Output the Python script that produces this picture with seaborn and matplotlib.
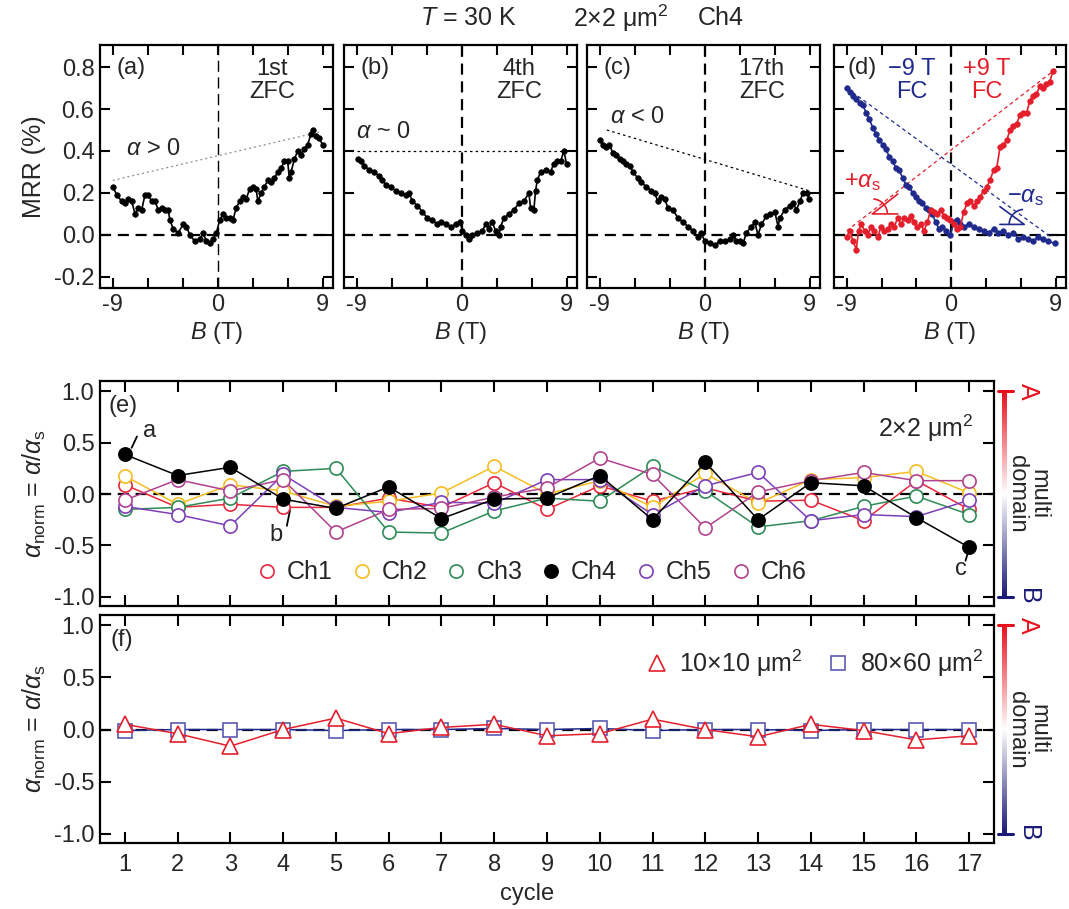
import numpy as np
import pandas as pd
import matplotlib
matplotlib.use('Agg')
import matplotlib.pyplot as plt
import seaborn as sns
from matplotlib.lines import Line2D
from matplotlib.patches import Arc
from matplotlib.colors import LinearSegmentedColormap

# ══════════════════════════════════════════════════════
#  DATA
# ══════════════════════════════════════════════════════
# (a) 1st ZFC
B_a = [-9.0, -8.66, -8.23, -7.95, -7.66, -7.38, -7.09, -6.81, -6.52, -6.24,
       -5.95, -5.67, -5.38, -5.1, -4.81, -4.53, -4.25, -4.1, -3.82, -3.39,
       -2.96, -2.68, -2.39, -1.97, -1.54, -1.25, -0.97, -0.68, -0.4, -0.11,
       0.17, 0.46, 0.74, 1.03, 1.31, 1.6, 1.88, 2.17, 2.45, 2.74,
       3.02, 3.3, 3.45, 3.73, 4.02, 4.3, 4.59, 4.87, 5.16, 5.44,
       5.73, 6.01, 6.15, 6.3, 6.58, 6.87, 7.15, 7.44, 7.72, 8.01,
       8.15, 8.43, 8.72, 9.0]
mrr_a = [0.23, 0.19, 0.16, 0.15, 0.17, 0.16, 0.10, 0.13, 0.12, 0.19,
         0.19, 0.16, 0.16, 0.12, 0.13, 0.12, 0.12, 0.07, 0.03, 0.01,
         0.05, 0.04, 0.00, -0.03, -0.02, 0.01, -0.03, -0.04, -0.02, 0.01,
         0.07, 0.10, 0.08, 0.08, 0.07, 0.13, 0.16, 0.18, 0.17, 0.22,
         0.23, 0.22, 0.16, 0.20, 0.23, 0.26, 0.25, 0.27, 0.30, 0.32,
         0.35, 0.35, 0.27, 0.30, 0.36, 0.40, 0.38, 0.41, 0.43, 0.48,
         0.50, 0.47, 0.46, 0.43]

# (b) 4th ZFC
B_b = [-8.94, -8.66, -8.37, -7.94, -7.51, -7.09, -6.8, -6.51, -6.09, -5.66,
       -5.23, -4.8, -4.51, -4.23, -3.8, -3.37, -2.94, -2.51, -2.09, -1.8,
       -1.37, -0.94, -0.51, -0.14, 0.06, 0.34, 0.63, 0.91, 1.34, 1.77,
       2.06, 2.34, 2.63, 2.91, 3.2, 3.34, 3.63, 4.06, 4.49, 4.91,
       5.34, 5.77, 5.91, 6.2, 6.34, 6.49, 6.77, 7.2, 7.63, 7.91,
       8.2, 8.49, 8.77, 9.0]
mrr_b = [0.36, 0.35, 0.33, 0.31, 0.30, 0.28, 0.26, 0.24, 0.23, 0.21,
         0.20, 0.19, 0.20, 0.16, 0.14, 0.11, 0.08, 0.07, 0.05, 0.06,
         0.05, 0.04, 0.05, 0.06, 0.02, 0.00, -0.02, 0.00, 0.01, 0.02,
         0.05, 0.03, 0.06, 0.02, 0.00, 0.04, 0.08, 0.10, 0.12, 0.15,
         0.16, 0.20, 0.13, 0.12, 0.21, 0.26, 0.30, 0.31, 0.30, 0.34,
         0.35, 0.35, 0.40, 0.34]

# (c) 17th ZFC
B_c = [-8.97, -8.74, -8.45, -8.17, -7.88, -7.59, -7.31, -7.02, -6.73, -6.45,
       -6.16, -5.73, -5.44, -5.01, -4.58, -4.3, -4.01, -3.72, -3.44, -3.15,
       -2.72, -2.29, -1.86, -1.43, -1.0, -0.57, -0.29, 0.0, 0.43, 0.86,
       1.29, 1.72, 2.15, 2.44, 2.72, 3.01, 3.3, 3.58, 4.01, 4.3,
       4.58, 4.87, 5.3, 5.59, 6.02, 6.3, 6.45, 6.88, 7.31, 7.59,
       7.88, 8.17, 8.45, 8.8, 8.97]
mrr_c = [0.45, 0.43, 0.42, 0.43, 0.39, 0.38, 0.36, 0.35, 0.34, 0.33,
         0.30, 0.27, 0.25, 0.23, 0.21, 0.20, 0.16, 0.18, 0.17, 0.13,
         0.12, 0.08, 0.06, 0.04, 0.02, -0.01, 0.01, -0.03, -0.04, -0.05,
         -0.03, -0.03, -0.02, 0.00, -0.03, -0.03, -0.04, 0.01, 0.04, 0.06,
         0.00, 0.05, 0.09, 0.10, 0.11, 0.04, 0.08, 0.12, 0.14, 0.15,
         0.12, 0.16, 0.20, 0.20, 0.17]

# (d) -9 T FC (blue) and +9 T FC (red)
B_dm = [-9.0, -8.75, -8.46, -8.18, -7.89, -7.61, -7.32, -7.04, -6.75, -6.47,
        -6.18, -5.9, -5.61, -5.33, -5.04, -4.76, -4.47, -4.19, -3.9, -3.62,
        -3.33, -3.05, -2.76, -2.48, -2.19, -1.91, -1.62, -1.34, -1.05, -0.77,
        -0.48, -0.06, 0.23, 0.51, 0.8, 1.08, 1.51, 1.94, 2.36, 2.79,
        3.22, 3.65, 4.07, 4.5, 4.93, 5.36, 5.78, 6.21, 6.64, 7.07,
        7.49, 7.92, 8.35, 8.92]
mrr_dm = [0.70, 0.68, 0.66, 0.65, 0.63, 0.62, 0.58, 0.55, 0.51, 0.48,
          0.45, 0.43, 0.41, 0.37, 0.35, 0.32, 0.31, 0.27, 0.24, 0.23,
          0.20, 0.18, 0.16, 0.15, 0.13, 0.12, 0.10, 0.06, 0.03, 0.04,
          0.02, 0.00, 0.06, 0.07, 0.05, 0.04, 0.05, 0.04, 0.03, 0.02,
          0.01, 0.03, 0.01, 0.02, 0.00, 0.01, -0.02, -0.01, -0.02, -0.03,
          -0.01, -0.02, -0.03, -0.04]
B_dp = [-9.0, -8.75, -8.46, -8.18, -7.98, -7.75, -7.46, -7.18, -6.9, -6.61,
        -6.33, -6.04, -5.76, -5.47, -5.19, -4.9, -4.62, -4.33, -4.05, -3.76,
        -3.48, -3.19, -2.91, -2.62, -2.34, -2.05, -1.77, -1.48, -1.2, -0.91,
        -0.63, -0.34, -0.06, 0.23, 0.51, 0.8, 1.08, 1.37, 1.65, 1.94,
        2.22, 2.51, 2.79, 3.08, 3.36, 3.65, 3.93, 4.22, 4.5, 4.79,
        5.07, 5.36, 5.64, 5.93, 6.21, 6.5, 6.78, 7.07, 7.35, 7.64,
        7.92, 8.21, 8.49, 8.78]
mrr_dp = [-0.01, 0.02, -0.03, -0.07, 0.02, 0.05, 0.02, 0.00, 0.04, 0.02,
          -0.01, 0.04, 0.02, 0.03, 0.05, 0.04, 0.08, 0.05, 0.08, 0.07,
          0.09, 0.06, 0.04, 0.05, 0.02, 0.06, 0.12, 0.11, 0.10, 0.12,
          0.09, 0.08, 0.07, 0.05, 0.03, 0.04, 0.11, 0.15, 0.16, 0.14,
          0.16, 0.18, 0.21, 0.23, 0.26, 0.31, 0.32, 0.42, 0.43, 0.45,
          0.50, 0.52, 0.53, 0.57, 0.58, 0.58, 0.64, 0.66, 0.67, 0.71,
          0.70, 0.72, 0.73, 0.78]

# guide lines (end points B, MRR)
guide_a = ([-9.0, 8.7], [0.26, 0.49])
guide_b = ([-9.0, 9.0], [0.40, 0.40])
guide_c = ([-8.4, 9.0], [0.50, 0.21])
guide_dp = ([-9.0, 9.0], [0.02, 0.79])
guide_dm = ([-9.0, 8.6], [0.70, -0.01])
wedge_dp = ([-4.6, -6.8, -4.6], [0.10, 0.10, 0.195])
wedge_dm = ([4.2, 6.3, 4.2], [0.05, 0.05, 0.135])

# (e) alpha_norm for the 2x2 um^2 channels
cycles = list(range(1, 18))
channels = ['Ch1', 'Ch2', 'Ch3', 'Ch4', 'Ch5', 'Ch6']
ch1 = [0.09, -0.13, -0.10, -0.13, -0.13, -0.04, -0.13, 0.11, -0.15, 0.08,
       -0.07, 0.06, -0.07, -0.06, -0.26, 0.13, -0.15]
ch2 = [0.175, -0.10, 0.09, 0.03, -0.12, -0.07, 0.01, 0.27, 0.00, 0.13,
       -0.13, 0.20, -0.09, 0.14, 0.16, 0.22, 0.01]
ch3 = [-0.15, -0.13, -0.04, 0.22, 0.25, -0.37, -0.38, -0.165, -0.04, -0.07,
       0.27, 0.03, -0.32, -0.26, -0.12, -0.02, -0.20]
ch4 = [0.385, 0.18, 0.26, -0.05, -0.14, 0.07, -0.24, -0.05, -0.04, 0.18,
       -0.25, 0.31, -0.25, 0.11, 0.08, -0.23, -0.52]
ch5 = [-0.12, -0.20, -0.31, 0.19, -0.13, -0.18, -0.08, -0.09, 0.14, 0.14,
       -0.20, 0.08, 0.21, -0.26, -0.20, -0.22, -0.06]
ch6 = [-0.06, 0.14, 0.03, 0.14, -0.37, -0.15, -0.14, -0.03, 0.06, 0.35,
       0.19, -0.33, 0.02, 0.13, 0.21, 0.13, 0.13]

# (f) larger devices
dev_10 = [0.05, -0.04, -0.16, 0.00, 0.11, -0.04, 0.02, 0.05, -0.06, -0.04,
          0.10, 0.00, -0.07, 0.05, -0.01, -0.10, -0.06]
dev_80 = [-0.01, 0.00, 0.00, 0.00, -0.01, 0.00, 0.00, 0.01, 0.00, 0.01,
          -0.01, 0.00, 0.00, -0.01, 0.00, 0.00, 0.00]

# colours
RED = '#e41e2b'
NAVY = '#1f2a8c'
ch_colors = ['#e8283a', '#f5bd1f', '#2e8b57', '#000000', '#7d3fb8', '#b0428f']

# ══════════════════════════════════════════════════════
#  STYLE
# ══════════════════════════════════════════════════════
sns.set_style('ticks')
plt.rcParams['font.family'] = ['Liberation Sans', 'DejaVu Sans']
plt.rcParams.update({
    'mathtext.fontset': 'custom',
    'mathtext.rm': 'Liberation Sans',
    'mathtext.it': 'Liberation Sans:italic',
    'mathtext.bf': 'Liberation Sans:bold',
    'axes.unicode_minus': False,
    'font.size': 17,
})
FS = 17

W, H = 1069, 909
fig = plt.figure(figsize=(W / 100, H / 100), dpi=100)


def box(left, top, right, bottom):
    return [left / W, 1 - bottom / H, (right - left) / W, (bottom - top) / H]


def style_frame(ax):
    for s in ax.spines.values():
        s.set_linewidth(1.6)
        s.set_color('black')
    ax.tick_params(direction='in', top=True, right=True, length=7, width=1.5,
                   labelsize=FS, pad=4, color='black')


def style_top(ax, show_y, vthin=False):
    ax.set_xlim(-10.1, 9.9)
    ax.set_ylim(-0.253, 0.905)
    ax.set_xticks([-9, -6, -3, 0, 3, 6, 9])
    ax.set_xticklabels(['-9', '', '', '0', '', '', '9'])
    ax.set_yticks([-0.2, 0.0, 0.2, 0.4, 0.6, 0.8])
    if show_y:
        ax.set_yticklabels(['-0.2', '0.0', '0.2', '0.4', '0.6', '0.8'])
        ax.set_ylabel('MRR (%)', fontsize=FS + 1, labelpad=6)
    else:
        ax.set_yticklabels([])
        ax.set_ylabel('')
    ax.axhline(0, color='black', lw=1.6, dashes=(5, 3), zorder=1)
    if vthin:
        ax.axvline(0, color='black', lw=1.0, dashes=(8, 4), zorder=1)
    else:
        ax.axvline(0, color='black', lw=1.6, dashes=(5, 3), zorder=1)
    ax.set_xlabel(r'$B$ (T)', fontsize=FS, labelpad=3)
    style_frame(ax)


def curve(ax, x, y, color):
    sns.lineplot(x=x, y=y, ax=ax, color=color, lw=1.2, marker='o', ms=4.0,
                 markeredgecolor=color, markerfacecolor=color,
                 markeredgewidth=0.5, estimator=None, sort=False, zorder=3)


# ── top row ───────────────────────────────────────────
ax_a = fig.add_axes(box(100, 45, 333, 288))
ax_b = fig.add_axes(box(344, 45, 577, 288))
ax_c = fig.add_axes(box(587, 45, 820, 288))
ax_d = fig.add_axes(box(834, 45, 1066, 288))

curve(ax_a, B_a, mrr_a, 'black')
ax_a.plot(*guide_a, color='#8a8a8a', lw=0.9, dashes=(1.5, 2.5))
style_top(ax_a, True, vthin=True)
ax_a.text(0.07, 0.905, '(a)', transform=ax_a.transAxes, va='center', fontsize=FS)
ax_a.text(0.74, 0.945, '1st\nZFC', transform=ax_a.transAxes, ha='center',
          va='top', fontsize=FS, linespacing=1.05)
ax_a.text(-7.9, 0.41, r'$\alpha$ > 0', fontsize=FS, va='center')

curve(ax_b, B_b, mrr_b, 'black')
ax_b.plot(*guide_b, color='black', lw=0.9, dashes=(2, 2.5))
style_top(ax_b, False)
ax_b.text(0.07, 0.905, '(b)', transform=ax_b.transAxes, va='center', fontsize=FS)
ax_b.text(0.75, 0.945, '4th\nZFC', transform=ax_b.transAxes, ha='center',
          va='top', fontsize=FS, linespacing=1.05)
ax_b.text(-9.1, 0.49, r'$\alpha$ ~ 0', fontsize=FS, va='center')

curve(ax_c, B_c, mrr_c, 'black')
ax_c.plot(*guide_c, color='black', lw=0.9, dashes=(2, 2.5))
style_top(ax_c, False)
ax_c.text(0.07, 0.905, '(c)', transform=ax_c.transAxes, va='center', fontsize=FS)
ax_c.text(0.75, 0.945, '17th\nZFC', transform=ax_c.transAxes, ha='center',
          va='top', fontsize=FS, linespacing=1.05)
ax_c.text(-8.1, 0.56, r'$\alpha$ < 0', fontsize=FS, va='center')

curve(ax_d, B_dm, mrr_dm, NAVY)
curve(ax_d, B_dp, mrr_dp, RED)
ax_d.plot(*guide_dp, color=RED, lw=0.9, dashes=(3, 2.5))
ax_d.plot(*guide_dm, color=NAVY, lw=0.9, dashes=(3, 2.5))
ax_d.plot(*wedge_dp, color=RED, lw=1.2)
ax_d.plot(*wedge_dm, color=NAVY, lw=1.2)
ax_d.add_patch(Arc((wedge_dp[0][1], wedge_dp[1][1]), 2.6, 0.143,
                   theta1=0, theta2=38, color=RED, lw=1.2))
ax_d.add_patch(Arc((wedge_dm[0][1], wedge_dm[1][1]), 2.6, 0.143,
                   theta1=144, theta2=180, color=NAVY, lw=1.2))
style_top(ax_d, False)
ax_d.text(0.06, 0.905, '(d)', transform=ax_d.transAxes, va='center', fontsize=FS)
ax_d.text(0.335, 0.945, '\u22129 T\nFC', transform=ax_d.transAxes, ha='center',
          va='top', fontsize=FS, linespacing=1.05, color=NAVY)
ax_d.text(0.66, 0.945, '+9 T\nFC', transform=ax_d.transAxes, ha='center',
          va='top', fontsize=FS, linespacing=1.05, color=RED)
ax_d.text(-9.2, 0.25, r'+$\alpha_{\rm s}$', fontsize=FS, va='center', color=RED)
ax_d.text(4.8, 0.18, '\u2212' + r'$\alpha_{\rm s}$', fontsize=FS, va='center',
          color=NAVY)

# header line
fig.text(468 / W, 1 - 18 / H, r'$T$ = 30 K', ha='center', va='center', fontsize=FS + 1)
fig.text(621 / W, 1 - 18 / H, '2×2 μm$^2$', ha='center', va='center', fontsize=FS + 1)
fig.text(721 / W, 1 - 18 / H, 'Ch4', ha='center', va='center', fontsize=FS + 1)

# ── bottom panels ─────────────────────────────────────
ax_e = fig.add_axes(box(100, 381, 994, 606))
ax_f = fig.add_axes(box(100, 615, 994, 843))

cmap = LinearSegmentedColormap.from_list('ab', ['#1a1a78', '#ffffff', '#e8101c'])


def style_bottom(ax, show_x):
    ax.set_xlim(0.53, 17.47)
    ax.set_ylim(-1.09, 1.10)
    ax.set_xticks(cycles)
    ax.set_xticklabels([str(c) for c in cycles] if show_x else [])
    ax.set_yticks([-1.0, -0.5, 0.0, 0.5, 1.0])
    ax.set_yticklabels(['-1.0', '-0.5', '0.0', '0.5', '1.0'])
    ax.axhline(0, color='black', lw=1.6, dashes=(5, 3), zorder=1)
    ax.set_ylabel(r'$\alpha_{\rm norm}$ = $\alpha$/$\alpha_{\rm s}$',
                  fontsize=FS + 1, labelpad=4)
    ax.set_xlabel('cycle' if show_x else '', fontsize=FS, labelpad=2)
    style_frame(ax)
    ax.tick_params(length=8)
    ax.tick_params(axis='x', pad=8)
    # A / B domain bar on the right
    tr = ax.get_yaxis_transform()
    bar = ax.inset_axes([1.0095, -1.0, 0.0055, 2.0], transform=tr)
    grad = np.linspace(-1, 1, 256).reshape(-1, 1)
    bar.imshow(grad, aspect='auto', cmap=cmap, origin='lower',
               extent=[0, 1, -1, 1])
    bar.axis('off')
    ax.plot([1.005, 1.021], [1.0, 1.0], transform=tr, clip_on=False,
            color='#e8101c', lw=2.2)
    ax.plot([1.005, 1.021], [-1.0, -1.0], transform=tr, clip_on=False,
            color='#1a1a78', lw=2.2)
    ax.text(1.038, 1.0, 'A', transform=tr, rotation=-90, ha='center',
            va='center', color='#e8101c', fontsize=FS + 1)
    ax.text(1.038, -1.0, 'B', transform=tr, rotation=-90, ha='center',
            va='center', color='#1a1a78', fontsize=FS + 1)
    ax.text(1.038, 0.0, 'multi\ndomain', transform=tr, rotation=-90,
            ha='center', va='center', fontsize=FS, linespacing=0.95)


series_e = [ch1, ch2, ch3, ch4, ch5, ch6]
order = [0, 1, 2, 4, 5, 3]
for i in order:
    c = ch_colors[i]
    filled = channels[i] == 'Ch4'
    sns.lineplot(x=cycles, y=series_e[i], ax=ax_e, color=c, lw=1.1,
                 marker='o', ms=9.5, markeredgecolor=c, markeredgewidth=1.2,
                 markerfacecolor=c if filled else 'white',
                 estimator=None, sort=False, zorder=3 + (i == 3))
style_bottom(ax_e, False)

handles = [Line2D([], [], ls='none', marker='o', ms=9.5, mew=1.2, mec=c,
                  mfc=(c if n == 'Ch4' else 'white'))
           for n, c in zip(channels, ch_colors)]
ax_e.legend(handles, channels, loc='center', bbox_to_anchor=(0.483, 0.15),
            ncol=6, frameon=False, fontsize=FS + 1, handlelength=0.8,
            handletextpad=0.4, columnspacing=0.75, borderpad=0)
ax_e.text(0.009, 0.89, '(e)', transform=ax_e.transAxes, va='center', fontsize=FS)
ax_e.text(0.977, 0.79, '2×2 μm$^2$', transform=ax_e.transAxes, ha='right',
          va='center', fontsize=FS + 1)
ax_e.plot([1.13, 1.23], [0.45, 0.56], color='black', lw=1.3)
ax_e.text(1.47, 0.61, 'a', ha='center', va='center', fontsize=FS)
ax_e.plot([4.13, 4.07], [-0.16, -0.31], color='black', lw=1.3)
ax_e.text(3.86, -0.40, 'b', ha='center', va='center', fontsize=FS)
ax_e.plot([16.97, 16.93], [-0.58, -0.65], color='black', lw=1.3)
ax_e.text(16.85, -0.73, 'c', ha='center', va='center', fontsize=FS)

sns.lineplot(x=cycles, y=dev_80, ax=ax_f, color=NAVY, lw=1.1, marker='s',
             ms=10, markeredgecolor='#5a5ab4', markerfacecolor='white',
             markeredgewidth=1.2, estimator=None, sort=False, zorder=3)
sns.lineplot(x=cycles, y=dev_10, ax=ax_f, color=RED, lw=1.1, marker='^',
             ms=11, markeredgecolor=RED, markerfacecolor='white',
             markeredgewidth=1.2, estimator=None, sort=False, zorder=4)
style_bottom(ax_f, True)
ax_f.xaxis.set_label_coords(0.478, -0.175)
hf = [Line2D([], [], ls='none', marker='^', ms=11, mew=1.2, mec=RED, mfc='white'),
      Line2D([], [], ls='none', marker='s', ms=10, mew=1.2, mec='#5a5ab4', mfc='white')]
ax_f.legend(hf, ['10×10 μm$^2$', '80×60 μm$^2$'], loc='center',
            bbox_to_anchor=(0.80, 0.79), ncol=2, frameon=False, fontsize=FS + 1,
            handlelength=0.8, handletextpad=0.5, columnspacing=1.0, borderpad=0)
ax_f.text(0.012, 0.89, '(f)', transform=ax_f.transAxes, va='center', fontsize=FS)

fig.savefig('out.png', dpi=100)
